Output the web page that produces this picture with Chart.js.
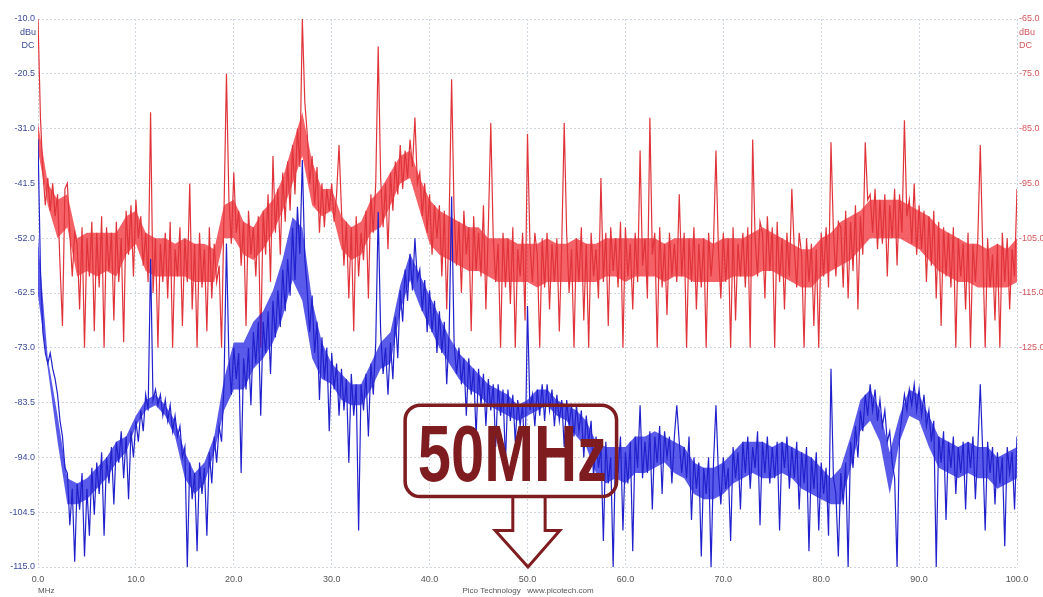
<!DOCTYPE html>
<html>
<head>
<meta charset="utf-8">
<script src="https://cdn.jsdelivr.net/npm/chart.js@4.4.1/dist/chart.umd.min.js"></script>
<style>
html, body { margin: 0; padding: 0; background: #fff; }
</style>
</head>
<body>
<canvas id="spectrumChart" width="1043" height="597"></canvas>
<script>
// spectrum, one value every 0.25 MHz (5 MHz per row)
const freqStepMHz = 0.25;

// channel B, right axis (dBu)
const redDbu = [
  -65,-83,-93,-99, -94,-100,-95,-101, -97,-110,-121,-96, -95,-104,-112,-104, -106,-118,-103,-125,
  -105,-112,-102,-122, -104,-114,-101,-125, -103,-111,-104,-120, -102,-113,-105,-124, -100,-108,-99,-112,
  -98,-105,-101,-110, -104,-113,-82,-115, -105,-125,-106,-113, -104,-116,-102,-125, -107,-112,-103,-121,
  -105,-113,-95,-118, -106,-125,-104,-114, -107,-122,-103,-116, -106,-113,-110,-125, -100,-75,-98,-106,
  -93,-104,-100,-110, -102,-121,-100,-108, -103,-112,-101,-125, -100,-108,-97,-113, -90,-104,-96,-108,
  -93,-102,-91,-100, -88,-97,-85,-92, -65,-80,-86,-95, -90,-99,-92,-104, -95,-103,-96,-100,
  -95,-102,-97,-88, -100,-110,-102,-116, -103,-122,-101,-112, -104,-109,-100,-116, -97,-104,-95,-70,
  -94,-103,-95,-107, -93,-100,-91,-97, -88,-96,-89,-94, -87,-92,-83,-95, -93,-101,-95,-104,
  -97,-108,-99,-105, -99,-112,-100,-118, -101,-76,-100,-110, -102,-115,-100,-108, -103,-122,-101,-111,
  -104,-112,-99,-118, -103,-84,-105,-113, -106,-125,-104,-114, -105,-117,-103,-125, -107,-112,-104,-120,
  -86,-106,-113,-104, -108,-125,-105,-114, -104,-118,-106,-113, -105,-122,-106,-84, -104,-115,-107,-125,
  -105,-113,-103,-120, -106,-125,-104,-112, -107,-116,-94,-113, -104,-121,-103,-111, -105,-114,-102,-125,
  -103,-112,-106,-118, -104,-113,-89,-110, -105,-116,-83,-108, -104,-125,-103,-114, -106,-119,-104,-112,
  -106,-113,-97,-112, -104,-125,-105,-113, -103,-118,-106,-114, -105,-125,-104,-112, -106,-89,-107,-116,
  -104,-113,-105,-125, -103,-120,-106,-112, -104,-114,-103,-125, -87,-105,-112,-102, -104,-116,-101,-111,
  -103,-125,-102,-113, -105,-118,-104,-112, -96,-107,-114,-104, -108,-125,-105,-113, -106,-121,-107,-125,
  -104,-112,-103,-114, -87.5,-104,-112,-102, -103,-114,-100,-116, -102,-111,-99,-118, -101,-108,-87.5,-98,
  -97,-104,-96,-107, -98,-106,-97,-112, -99,-105,-96,-110, -97,-104,-83.5,-101, -98,-106,-95,-108,
  -99,-107,-100,-113, -101,-110,-100,-116, -102,-121,-103,-112, -104,-114,-103,-125, -105,-112,-106,-118,
  -104,-125,-106,-113, -105,-88,-107,-125, -105,-114,-108,-120, -106,-125,-104,-113, -105,-118,-107,-112,
  -96
];

// channel A, left axis (dBu)
const blueDbu = [
  -33,-58,-70,-74, -76,-74,-77,-79, -82,-87,-90,-96, -97,-107,-100,-114, -99,-104,-97,-113,
  -100,-109,-96,-105, -95,-101,-93,-109, -94,-99,-92,-103, -91,-95,-89,-98, -90,-102,-89,-94,
  -87,-91,-85,-89, -82,-85,-56,-83, -81,-84,-82,-86, -83,-87,-84,-89, -86,-90,-88,-94,
  -92,-115,-95,-102, -97,-112,-95,-101, -96,-109,-93,-99, -90,-95,-88,-91, -80,-53,-75,-82,
  -73,-79,-74,-97, -75,-81,-73,-84, -70,-76,-68,-86, -68,-74,-66,-78, -64,-71,-62,-69,
  -58,-66,-56,-63, -50,-60,-46,-55, -37,-56,-62,-70, -63,-74,-68,-83, -71,-79,-73,-89,
  -74,-81,-76,-86, -77,-85,-79,-95, -78,-86,-80,-108, -80,-85,-78,-90, -76,-82,-72,-47,
  -70,-78,-73,-82, -72,-79,-67,-75, -62,-68,-58,-64, -55,-62,-52,-60, -58,-66,-60,-70,
  -62,-70,-64,-74, -66,-74,-68,-80, -70,-44,-72,-78, -73,-80,-75,-86, -75,-82,-77,-90,
  -77,-84,-78,-88, -79,-85,-80,-92, -80,-86,-81,-95, -81,-87,-82,-91, -83,-88,-84,-96,
  -65,-85,-82,-88, -81,-86,-80,-87, -80,-85,-81,-88, -82,-87,-83,-92, -83,-88,-84,-90,
  -84,-89,-85,-94, -86,-91,-87,-98, -90,-96,-92,-110, -91,-99,-94,-115, -92,-97,-90,-108,
  -93,-99,-91,-112, -90,-96,-84,-98, -91,-97,-89,-104, -90,-95,-88,-101, -89,-94,-90,-99,
  -90,-84,-91,-97, -92,-98,-90,-106, -94,-100,-95,-113, -96,-101,-94,-115, -95,-84,-97,-103,
  -94,-100,-96,-110, -92,-98,-93,-104, -91,-97,-90,-100, -92,-96,-89,-107, -91,-97,-90,-99,
  -92,-98,-91,-108, -91,-96,-90,-100, -92,-98,-91,-104, -93,-99,-92,-112, -94,-100,-93,-108,
  -95,-101,-96,-109, -77,-98,-101,-113, -97,-103,-95,-115, -91,-96,-88,-94, -85,-89,-82,-86,
  -80,-85,-81,-87, -83,-88,-85,-91, -89,-95,-98,-115, -90,-86,-82,-85, -81,-84,-80,-85,
  -81,-86,-82,-88, -85,-91,-87,-115, -90,-95,-89,-106, -91,-96,-90,-101, -92,-97,-91,-104,
  -91,-96,-90,-102, -92,-80,-93,-108, -91,-97,-92,-103, -93,-99,-94,-111, -92,-97,-93,-104,
  -90
];

// dense core of each trace (where the noise is solid), one pair per MHz, 10 MHz per row
const coreStepMHz = 1;
const redCoreHi = [
  -84,-95,-98,-97,-105,-104,-104,-104,-104,-101,
  -100,-104,-105,-105,-106,-105,-106,-106,-107,-99,
  -98,-102,-103,-100,-98,-94,-88,-82,-91,-96,
  -96,-101,-103,-102,-98,-96,-93,-90,-89,-94,
  -98,-100,-101,-102,-103,-103,-105,-105,-105,-106,
  -106,-106,-105,-106,-106,-105,-106,-106,-105,-105,
  -105,-105,-105,-105,-106,-105,-105,-105,-105,-106,
  -105,-105,-105,-104,-103,-104,-105,-106,-107,-107,
  -105,-104,-102,-101,-100,-98,-98,-98,-98,-99,
  -100,-101,-103,-104,-105,-106,-106,-107,-106,-107,
  -105
];
const redCoreLo = [
  -89,-99,-105,-103,-112,-111,-112,-111,-112,-108,
  -106,-111,-112,-112,-112,-112,-113,-113,-113,-105,
  -105,-108,-109,-107,-104,-100,-95,-90,-99,-101,
  -100,-107,-109,-108,-104,-103,-99,-95,-94,-100,
  -106,-108,-109,-110,-111,-111,-112,-113,-113,-113,
  -113,-114,-113,-113,-113,-113,-113,-113,-112,-112,
  -113,-112,-112,-112,-113,-112,-112,-113,-113,-113,
  -113,-112,-112,-112,-111,-111,-112,-113,-114,-114,
  -112,-111,-110,-109,-107,-105,-105,-105,-105,-106,
  -107,-109,-111,-112,-113,-113,-114,-114,-114,-114,
  -113
];
const blueCoreHi = [
  -52,-75,-86,-98,-99,-98,-96,-94,-91,-90,
  -86,-83,-82,-84,-87,-93,-97,-95,-90,-79,
  -72,-72,-68,-66,-62,-56,-48,-50,-64,-72,
  -76,-78,-80,-80,-76,-72,-70,-61,-55,-59,
  -63,-67,-71,-74,-76,-78,-80,-81,-82,-84,
  -83,-81,-81,-83,-84,-85,-87,-91,-92,-92,
  -92,-90,-90,-89,-90,-91,-92,-95,-96,-96,
  -95,-93,-91,-91,-91,-92,-91,-92,-93,-94,
  -96,-98,-96,-90,-83,-81,-85,-93,-86,-81,
  -82,-86,-90,-91,-92,-91,-92,-92,-94,-93,
  -92
];
const blueCoreLo = [
  -63,-77,-91,-103,-103,-102,-100,-98,-95,-93,
  -88,-85,-84,-86,-90,-98,-101,-99,-93,-85,
  -81,-81,-77,-75,-72,-67,-60,-64,-75,-79,
  -80,-83,-84,-84,-81,-77,-76,-66,-60,-65,
  -69,-73,-76,-79,-81,-82,-84,-85,-86,-87,
  -86,-85,-84,-86,-87,-90,-92,-97,-99,-98,
  -99,-97,-97,-96,-95,-97,-98,-101,-102,-102,
  -101,-99,-98,-97,-98,-98,-97,-98,-100,-101,
  -102,-103,-103,-96,-89,-87,-91,-101,-91,-86,
  -87,-92,-96,-97,-98,-97,-98,-98,-100,-99,
  -98
];

const freqTicks = [0, 10, 20, 30, 40, 50, 60, 70, 80, 90, 100];
const leftTicks = [-10, -20.5, -31, -41.5, -52, -62.5, -73, -83.5, -94, -104.5, -115];
const rightTicks = [-65, -75, -85, -95, -105, -115, -125];

const toPoints = (vals, step) => vals.map((v, i) => ({ x: i * step, y: v }));

const tickFont = { family: "Liberation Sans", size: 9 };

const overlay = {
  id: "overlay",
  afterDatasetsDraw(chart) {
    const ctx = chart.ctx;
    const x = chart.scales.x;
    const y = chart.scales.yLeft;
    const dark = "#7e1c20";

    // 50MHz call-out box
    const bl = x.getPixelForValue(37.5), br = x.getPixelForValue(59.1);
    const bt = y.getPixelForValue(-84), bb = y.getPixelForValue(-101.5);
    const r = 15;
    ctx.save();
    ctx.strokeStyle = dark;
    ctx.lineWidth = 3.5;
    ctx.beginPath();
    ctx.moveTo(bl + r, bt);
    ctx.lineTo(br - r, bt);
    ctx.arcTo(br, bt, br, bt + r, r);
    ctx.lineTo(br, bb - r);
    ctx.arcTo(br, bb, br - r, bb, r);
    ctx.lineTo(bl + r, bb);
    ctx.arcTo(bl, bb, bl, bb - r, r);
    ctx.lineTo(bl, bt + r);
    ctx.arcTo(bl, bt, bl + r, bt, r);
    ctx.closePath();
    ctx.stroke();

    // text
    const label = "50MHz";
    const tl = x.getPixelForValue(38.8), tr = x.getPixelForValue(58.1);
    const base = y.getPixelForValue(-98.5);
    ctx.font = 'bold 80px "Liberation Sans"';
    const w = ctx.measureText(label).width;
    ctx.fillStyle = dark;
    ctx.translate(tl, base);
    ctx.scale((tr - tl) / w, 1);
    ctx.textBaseline = "alphabetic";
    ctx.fillText(label, 0, 0);
    ctx.restore();

    // hollow arrow pointing at 50 MHz
    const sl = x.getPixelForValue(48.5), sr = x.getPixelForValue(51.8);
    const hl = x.getPixelForValue(46.7), hr = x.getPixelForValue(53.3);
    const sb = y.getPixelForValue(-108);
    const tipX = x.getPixelForValue(50.05), tipY = y.getPixelForValue(-115);
    ctx.save();
    ctx.strokeStyle = dark;
    ctx.lineWidth = 3;
    ctx.lineJoin = "miter";
    ctx.beginPath();
    ctx.moveTo(sl, bb);
    ctx.lineTo(sl, sb);
    ctx.lineTo(hl, sb);
    ctx.lineTo(tipX, tipY);
    ctx.lineTo(hr, sb);
    ctx.lineTo(sr, sb);
    ctx.lineTo(sr, bb);
    ctx.stroke();
    ctx.restore();
  },
  afterDraw(chart) {
    const ctx = chart.ctx;
    const area = chart.chartArea;
    ctx.save();
    ctx.font = '9px "Liberation Sans"';
    ctx.textBaseline = "middle";
    ctx.textAlign = "center";
    ctx.fillStyle = "#3a4a96";
    ctx.fillText("dBu", 28, area.top + 14);
    ctx.fillText("DC", 28, area.top + 27);
    ctx.textAlign = "left";
    ctx.fillStyle = "#d2555b";
    ctx.fillText("dBu", area.right + 2, area.top + 14);
    ctx.fillText("DC", area.right + 2, area.top + 27);
    ctx.fillStyle = "#555";
    ctx.font = '8px "Liberation Sans"';
    ctx.fillText("MHz", area.left, area.bottom + 24);
    ctx.textAlign = "center";
    ctx.fillText("Pico Technology   www.picotech.com", (area.left + area.right) / 2 + 0.5, area.bottom + 24);
    ctx.restore();
  }
};

const grid = {
  color: "#cfd6e0",
  lineWidth: 1,
  drawTicks: false
};

const lineStyle = { pointRadius: 0, tension: 0, fill: false };

new Chart(document.getElementById("spectrumChart"), {
  type: "line",
  data: {
    datasets: [
      { ...lineStyle, label: "Channel A", data: toPoints(blueDbu, freqStepMHz), yAxisID: "yLeft",
        borderColor: "#2020cc", borderWidth: 1.2, order: 0 },
      { ...lineStyle, label: "A core top", data: toPoints(blueCoreHi, coreStepMHz), yAxisID: "yLeft",
        borderColor: "rgba(20,20,220,0)", borderWidth: 0, order: 1 },
      { ...lineStyle, label: "A core bottom", data: toPoints(blueCoreLo, coreStepMHz), yAxisID: "yLeft",
        borderColor: "rgba(20,20,220,0)", borderWidth: 0, fill: "-1", backgroundColor: "rgba(20,20,225,0.7)", order: 1 },
      { ...lineStyle, label: "Channel B", data: toPoints(redDbu, freqStepMHz), yAxisID: "yRight",
        borderColor: "#e0343a", borderWidth: 1.2, order: 2 },
      { ...lineStyle, label: "B core top", data: toPoints(redCoreHi, coreStepMHz), yAxisID: "yRight",
        borderColor: "rgba(238,34,41,0)", borderWidth: 0, order: 3 },
      { ...lineStyle, label: "B core bottom", data: toPoints(redCoreLo, coreStepMHz), yAxisID: "yRight",
        borderColor: "rgba(238,34,41,0)", borderWidth: 0, fill: "-1", backgroundColor: "rgba(240,30,38,0.7)", order: 3 }
    ]
  },
  options: {
    responsive: false,
    animation: false,
    layout: { padding: { top: 19 } },
    plugins: {
      legend: { display: false },
      tooltip: { enabled: false }
    },
    scales: {
      x: {
        type: "linear",
        min: 0,
        max: 100,
        afterBuildTicks: s => { s.ticks = freqTicks.map(v => ({ value: v })); },
        afterFit: s => { s.height = 30; },
        grid: grid,
        border: { display: false, dash: [2, 2] },
        ticks: {
          font: tickFont,
          color: "#555",
          padding: 7,
          maxRotation: 0,
          autoSkip: false,
          callback: v => v.toFixed(1)
        }
      },
      yLeft: {
        type: "linear",
        position: "left",
        min: -115,
        max: -10,
        afterBuildTicks: s => { s.ticks = leftTicks.map(v => ({ value: v })); },
        afterFit: s => { s.width = 38; },
        grid: grid,
        border: { display: false, dash: [2, 2] },
        ticks: {
          font: tickFont,
          color: "#3a4a96",
          padding: 3,
          callback: v => v.toFixed(1)
        }
      },
      yRight: {
        type: "linear",
        position: "right",
        min: -165,
        max: -65,
        afterBuildTicks: s => { s.ticks = rightTicks.map(v => ({ value: v })); },
        afterFit: s => { s.width = 26; },
        grid: { drawOnChartArea: false, drawTicks: false },
        border: { display: false },
        ticks: {
          font: tickFont,
          color: "#d2555b",
          padding: 2,
          callback: v => v.toFixed(1)
        }
      }
    }
  },
  plugins: [overlay]
});
</script>
</body>
</html>
